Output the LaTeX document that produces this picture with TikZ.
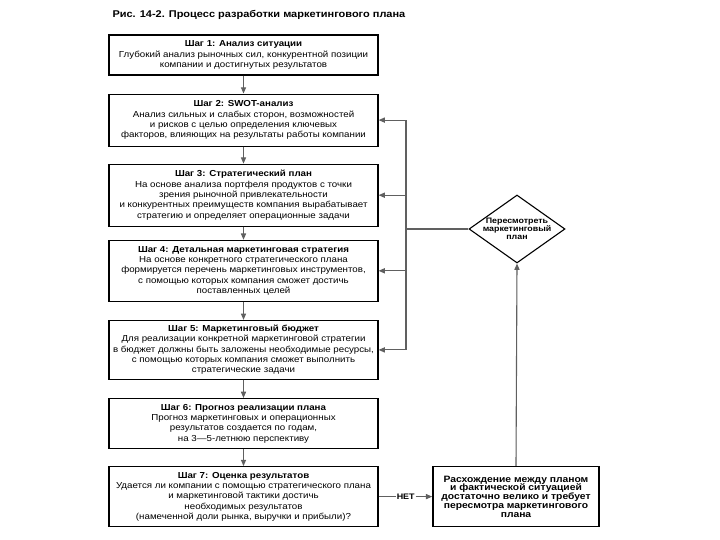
\documentclass[tikz,border=0pt]{standalone}
\usepackage{fontspec}
\setmainfont{Liberation Sans}[FakeStretch=1.12]
\usetikzlibrary{arrows.meta,positioning,shapes.geometric}

\begin{document}
\begin{tikzpicture}[
  box/.style={draw=black,line width=1.1pt,fill=white,minimum width=269pt,
    align=center,inner sep=2pt,font=\fontsize{8.7}{10.3}\selectfont},
  arrow/.style={-{Triangle[length=2.2mm,width=1.8mm]},line width=1.1pt,draw=gray!75!black,fill=gray!75!black},
  line/.style={line width=1.1pt,draw=gray!75!black}]
\useasboundingbox (0,0) rectangle (720pt,-540pt);
\node[anchor=west,font=\bfseries\fontsize{9.8}{11}\selectfont] (title) at (109pt,-15pt)
  {Рис. 14-2. Процесс разработки маркетингового плана};
\node[box,minimum height=40pt] (step1) at (243.5pt,-55pt) {\textbf{Шаг 1: Анализ ситуации}\\
  Глубокий анализ рыночных сил, конкурентной позиции\\
  компании и достигнутых результатов};
\node[box,minimum height=52pt,below=18pt of step1] (step2) {\textbf{Шаг 2: SWOT-анализ}\\
  Анализ сильных и слабых сторон, возможностей\\
  и рисков с целью определения ключевых\\
  факторов, влияющих на результаты работы компании};
\node[box,minimum height=62pt,below=17pt of step2] (step3) {\textbf{Шаг 3: Стратегический план}\\
  На основе анализа портфеля продуктов с точки\\
  зрения рыночной привлекательности\\
  и конкурентных преимуществ компания вырабатывает\\
  стратегию и определяет операционные задачи};
\node[box,minimum height=61pt,below=13pt of step3] (step4) {\textbf{Шаг 4: Детальная маркетинговая стратегия}\\
  На основе конкретного стратегического плана\\
  формируется перечень маркетинговых инструментов,\\
  с помощью которых компания сможет достичь\\
  поставленных целей};
\node[box,minimum height=59pt,below=18pt of step4] (step5) {\textbf{Шаг 5: Маркетинговый бюджет}\\
  Для реализации конкретной маркетинговой стратегии\\
  в бюджет должны быть заложены необходимые ресурсы,\\
  с помощью которых компания сможет выполнить\\
  стратегические задачи};
\node[box,minimum height=50pt,below=18pt of step5] (step6) {\textbf{Шаг 6: Прогноз реализации плана}\\
  Прогноз маркетинговых и операционных\\
  результатов создается по годам,\\
  на 3---5-летнюю перспективу};
\node[box,minimum height=60pt,below=17pt of step6] (step7) {\textbf{Шаг 7: Оценка результатов}\\
  Удается ли компании с помощью стратегического плана\\
  и маркетинговой тактики достичь\\
  необходимых результатов\\
  (намеченной доли рынка, выручки и прибыли)?};
% right column
\coordinate (fb) at (406pt,0);
\coordinate (gx) at (516pt,0);
\node[diamond,draw,line width=1.1pt,minimum width=96pt,minimum height=68pt,inner sep=-3pt,
  aspect=1.4,align=center,font=\bfseries\fontsize{7.9}{8}\selectfont] (review) at (517pt,-229pt)
  {Пересмотреть\\маркетинговый\\план};
\node[draw,line width=1.6pt,minimum width=166pt,minimum height=60pt,align=center,
  font=\bfseries\fontsize{9.2}{8.8}\selectfont] (gap) at (step7.east -| gx)
  {Расхождение между планом\\и фактической ситуацией\\достаточно велико и требует\\
  пересмотра маркетингового\\плана};
\node[font=\bfseries\fontsize{8}{9}\selectfont,inner sep=1pt,right=17pt of step7] (no) {НЕТ};
\foreach \a/\b in {step1/step2,step2/step3,step3/step4,step4/step5,step5/step6,step6/step7}
  \draw[arrow] (\a)--(\b);
\draw[line] (step7.east)--(no.west);
\draw[arrow] (no.east)--(gap.west);
\draw[arrow] (gap.north)--(review.south);
\draw[line] (review.west)--(review.west -| fb);
\draw[line] (step2.east -| fb)--(step5.east -| fb);
\foreach \s in {2,...,5}
  \draw[arrow] (step\s.east -| fb)--(step\s.east);
\end{tikzpicture}
\end{document}
